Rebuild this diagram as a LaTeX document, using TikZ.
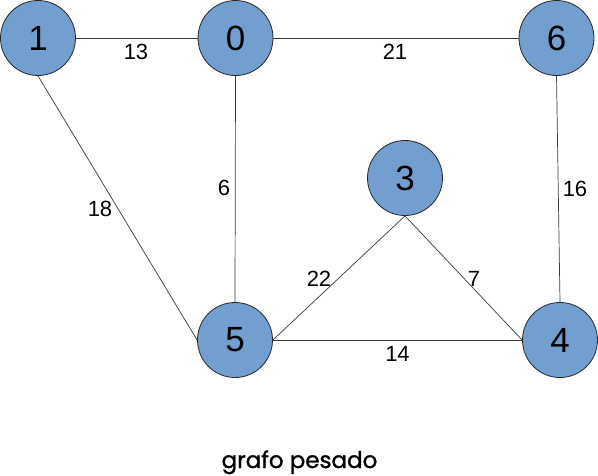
\documentclass[tikz,border=0pt]{standalone}
\usepackage{fontspec}
\setmainfont{Liberation Sans}
\newfontfamily\capfont[FakeBold=1.2]{Poppins}
\definecolor{nodeblue}{HTML}{729FCF}
\definecolor{edgegray}{HTML}{3A3A3A}
\begin{document}
\begin{tikzpicture}[x=1pt,y=-1pt,
  vtx/.style={circle, fill=nodeblue, draw=black!85, line width=0.8pt, minimum size=75pt, inner sep=0pt, font=\fontsize{35}{35}\selectfont},
  edge/.style={draw=edgegray, line width=0.7pt},
  wlabel/.style={font=\fontsize{22}{22}\selectfont, inner sep=0pt}]
\useasboundingbox (0,0) rectangle (598,475);
\node[vtx] (n1) at (38,38) {1};
\node[vtx] (n0) at (235.5,38) {0};
\node[vtx] (n6) at (556.5,38) {6};
\node[vtx] (n3) at (405,178) {3};
\node[vtx] (n5) at (235,340) {5};
\node[vtx] (n4) at (560,340) {4};
\draw[edge] (n1.east) -- (n0.west);
\draw[edge] (n0.east) -- (n6.west);
\draw[edge] (n0.south) -- (n5.north);
\draw[edge] (n1.south) -- (n5.west);
\draw[edge] (n6.south) -- (n4.north);
\draw[edge] (n3.south) -- (n5.east);
\draw[edge] (n3.south) -- (n4.west);
\draw[edge] (n5.east) -- (n4.west);
\node[wlabel] (l13) at (136,52) {13};
\node[wlabel] (l21) at (395,52) {21};
\node[wlabel] (l6) at (224,188) {6};
\node[wlabel] (l18) at (100,209) {18};
\node[wlabel] (l16) at (575,189) {16};
\node[wlabel] (l22) at (319,279) {22};
\node[wlabel] (l7) at (474,279) {7};
\node[wlabel] (l14) at (397.5,354) {14};
\node[font=\capfont\fontsize{23}{23}\selectfont, inner sep=0pt, anchor=base] (cap) at (299.5,468) {grafo pesado};
\end{tikzpicture}
\end{document}
